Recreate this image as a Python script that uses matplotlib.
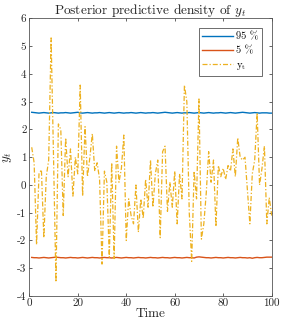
import matplotlib
matplotlib.use("Agg")
import matplotlib.pyplot as plt
import numpy as np

time = list(range(1, 101))
y_t = [1.36, 0.8, -2.15, 0.4, 0.55, -1.9, 0.3, 0.9, 5.3, 1.0,
       -3.5, 2.2, 2.0, -1.1, 1.7, 0.3, 1.3, -0.4, 1.0, 0.4,
       3.6, -0.4, 2.1, 0.3, 1.0, 1.85, 0.5, 0.8, 0.2, -2.85,
       0.5, 0.1, -2.6, 0.8, -2.65, 1.4, 0.1, 0.6, 1.8, -2.0,
       -0.5, -1.1, -1.4, 0.0, -1.7, -0.5, -1.2, 0.2, -0.8, 0.9,
       -0.8, 0.4, 0.9, -1.9, 1.2, 1.4, -0.95, 0.1, -0.8, 0.5,
       -1.4, 0.4, -0.5, 3.6, 3.0, -1.0, -2.75, 0.5, -0.5, 3.1,
       -1.95, -1.4, -0.3, 1.2, 0.1, 0.9, -1.5, 0.7, 0.3, 0.6,
       0.2, 0.7, 0.5, 1.3, 0.3, 1.7, 1.0, 0.9, 1.0, -0.2,
       -1.4, 0.4, 0.9, 2.6, 0.0, 0.6, 1.4, -1.4, -0.45, -1.1]
q95 = [2.62, 2.61, 2.60, 2.59, 2.60, 2.61, 2.60, 2.59, 2.60, 2.61,
       2.60, 2.59, 2.60, 2.60, 2.61, 2.60, 2.59, 2.60, 2.61, 2.62,
       2.60, 2.59, 2.60, 2.61, 2.60, 2.59, 2.60, 2.60, 2.61, 2.60,
       2.59, 2.60, 2.61, 2.60, 2.59, 2.60, 2.61, 2.60, 2.59, 2.60,
       2.60, 2.61, 2.60, 2.59, 2.60, 2.61, 2.60, 2.59, 2.60, 2.60,
       2.61, 2.60, 2.59, 2.60, 2.61, 2.62, 2.61, 2.60, 2.59, 2.60,
       2.61, 2.60, 2.59, 2.60, 2.60, 2.61, 2.60, 2.59, 2.60, 2.61,
       2.60, 2.59, 2.60, 2.61, 2.60, 2.59, 2.60, 2.60, 2.61, 2.60,
       2.59, 2.60, 2.61, 2.60, 2.59, 2.60, 2.61, 2.62, 2.61, 2.60,
       2.59, 2.60, 2.61, 2.60, 2.59, 2.60, 2.60, 2.60, 2.59, 2.59]
q05 = [-2.61, -2.62, -2.62, -2.63, -2.62, -2.61, -2.62, -2.63, -2.62, -2.61,
       -2.60, -2.61, -2.62, -2.62, -2.63, -2.62, -2.61, -2.62, -2.62, -2.63,
       -2.62, -2.61, -2.62, -2.63, -2.62, -2.61, -2.62, -2.62, -2.63, -2.62,
       -2.61, -2.62, -2.62, -2.63, -2.62, -2.61, -2.62, -2.63, -2.62, -2.61,
       -2.62, -2.62, -2.63, -2.62, -2.61, -2.62, -2.62, -2.63, -2.62, -2.61,
       -2.62, -2.62, -2.63, -2.62, -2.61, -2.62, -2.62, -2.63, -2.62, -2.61,
       -2.62, -2.62, -2.63, -2.62, -2.61, -2.62, -2.62, -2.63, -2.60, -2.59,
       -2.60, -2.61, -2.62, -2.62, -2.63, -2.62, -2.61, -2.62, -2.62, -2.63,
       -2.62, -2.61, -2.62, -2.62, -2.63, -2.62, -2.61, -2.62, -2.62, -2.63,
       -2.62, -2.64, -2.62, -2.61, -2.62, -2.62, -2.61, -2.60, -2.60, -2.60]

plt.rcParams['font.family'] = 'cmr10'
plt.rcParams['mathtext.fontset'] = 'cm'
plt.rcParams['axes.unicode_minus'] = False
plt.rcParams['axes.formatter.use_mathtext'] = False

fig = plt.figure(figsize=(2.83, 3.29), dpi=100)
ax = fig.add_axes([0.1035, 0.1003, 0.8565, 0.8435])

ax.plot(time, q95, color='#0072BD', lw=1.0, label='95 %')
ax.plot(time, q05, color='#D95319', lw=1.0, label='5 %')
ax.plot(time, y_t, color='#EDB120', lw=0.9, dashes=(4, 1.6, 1, 1.6),
        label=r'$\mathrm{y}_\mathrm{t}$')

ax.set_xlim(0, 100)
ax.set_ylim(-4, 6)
ax.set_xticks([0, 20, 40, 60, 80, 100])
ax.set_yticks(list(range(-4, 7)))
ax.tick_params(direction='in', top=True, right=True, labelsize=8, length=2.5,
               width=0.5, colors='#262626', pad=2)
for s in ax.spines.values():
    s.set_color('#555555')
    s.set_linewidth(0.6)
ax.set_title(r'Posterior predictive density of $y_t$', fontsize=9.6, pad=3, color='#262626')
ax.set_xlabel('Time', fontsize=9.5, labelpad=0, color='#262626')
ax.set_ylabel(r'$y_t$', fontsize=9.5, labelpad=2, color='#262626')

leg = ax.legend(loc='upper right', fontsize=7.5, frameon=True, fancybox=False,
                edgecolor='#555555', framealpha=1, borderpad=0.35, labelspacing=0.45,
                handlelength=2.9, handletextpad=0.3, borderaxespad=0.95)
leg.get_frame().set_linewidth(0.6)

fig.savefig('out.png', dpi=100)
